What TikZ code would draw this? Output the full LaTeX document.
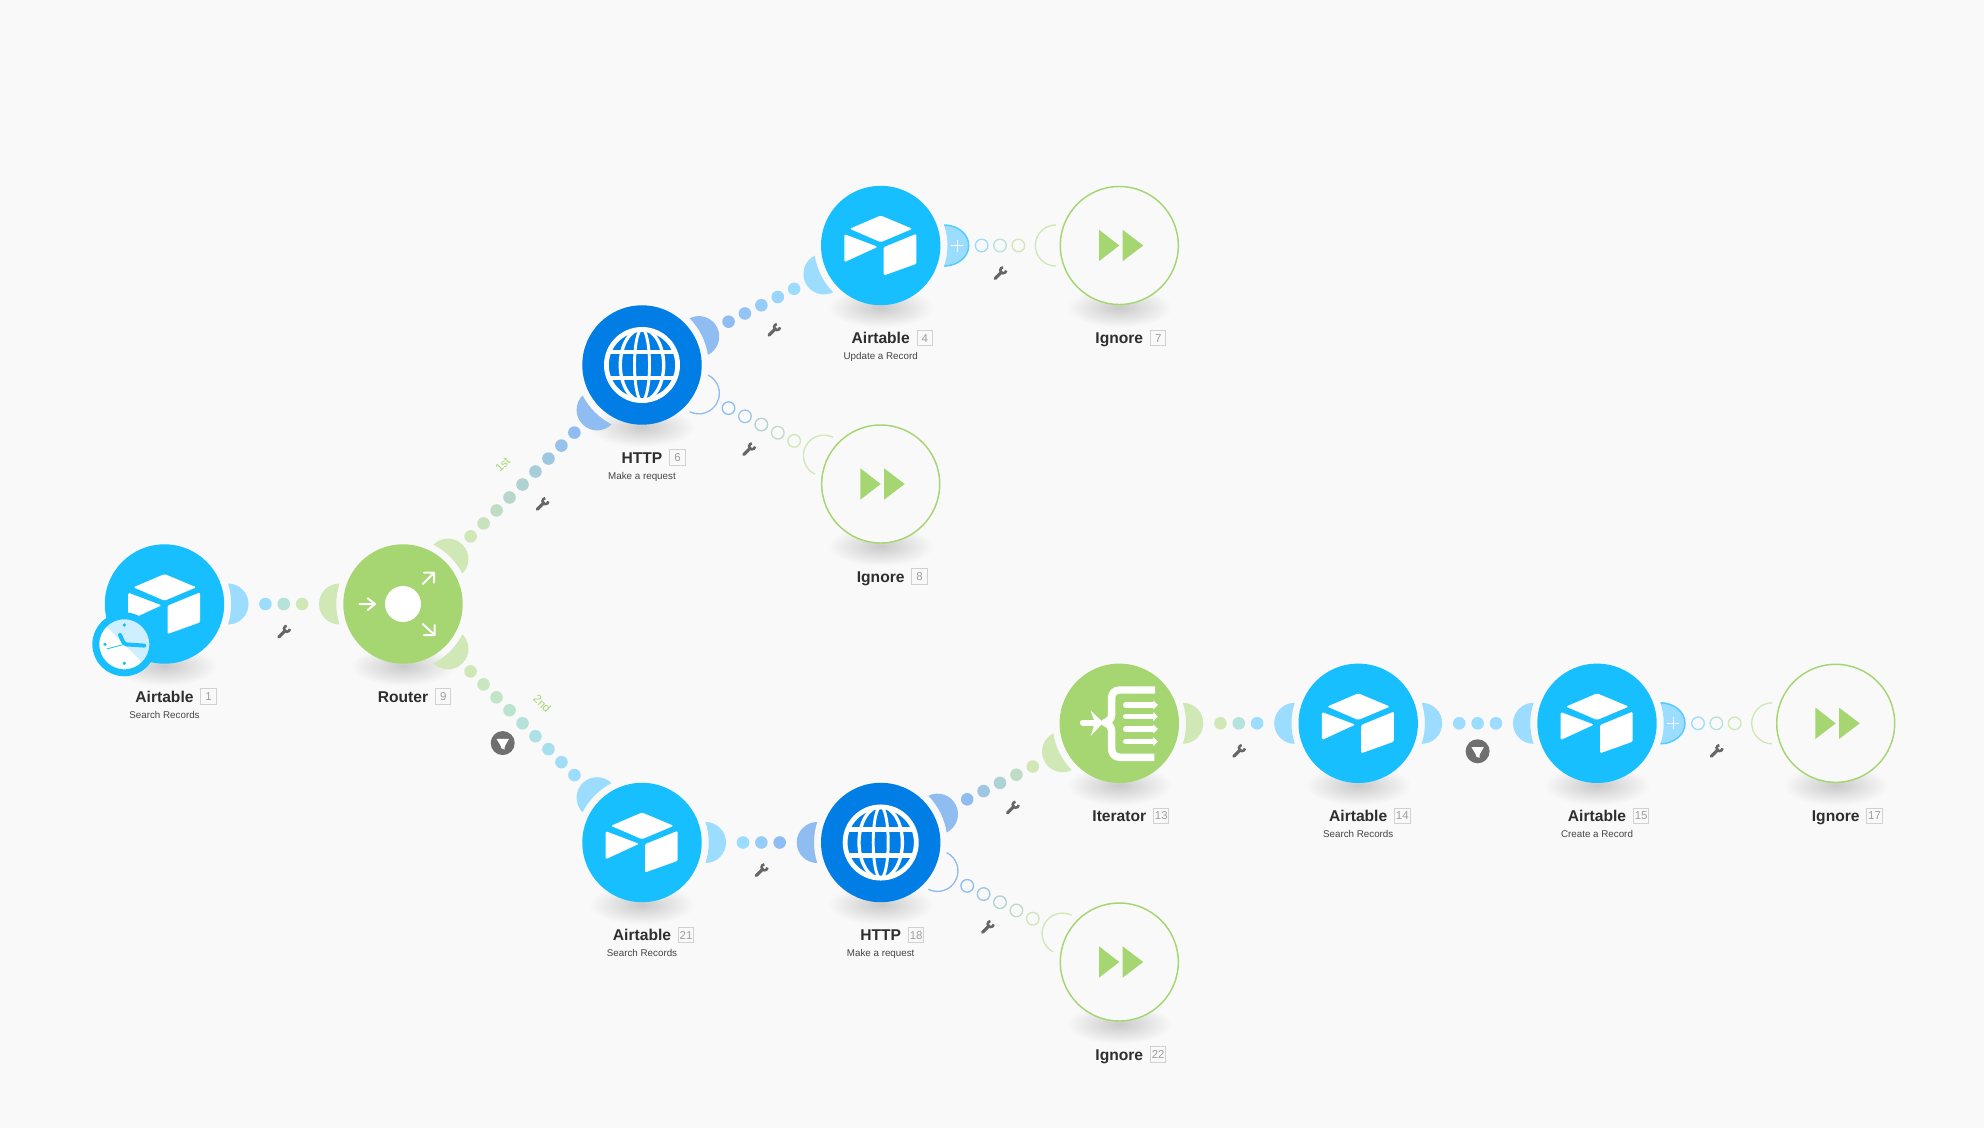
\documentclass[tikz,border=0pt]{standalone}
\usepackage{fontspec}
\setmainfont{Liberation Sans}
\usetikzlibrary{calc}
\definecolor{bgc}{HTML}{F9F9F9}
\definecolor{atc}{HTML}{18BFFF}
\definecolor{grc}{HTML}{A6D672}
\definecolor{htc}{HTML}{007EE6}
\definecolor{atl}{HTML}{9BDCFF}
\definecolor{grl}{HTML}{CFE8B6}
\definecolor{htl}{HTML}{8FBCF1}
\definecolor{clkl}{HTML}{CDEFFF}
\definecolor{txt}{HTML}{2E2E2E}
\definecolor{sub}{HTML}{444444}
\definecolor{ico}{HTML}{666666}
\definecolor{flt}{HTML}{6F6F6F}
\tikzset{
  mod/.style={circle,minimum size=89.55pt,inner sep=0pt,outer sep=0pt},
  atnode/.style={mod,fill=atc},
  httpnode/.style={mod,fill=htc},
  greennode/.style={mod,fill=grc},
  ignorenode/.style={mod,fill=bgc,draw=grc,line width=1.1pt,minimum size=88.5pt},
  title/.style={inner sep=0pt,anchor=base,text=txt,font=\fontsize{11.7}{14}\selectfont\bfseries},
  subt/.style={inner sep=0pt,anchor=base,text=sub,font=\fontsize{7.35}{8}\selectfont},
  numbox/.style={draw=black!18,line width=.75pt,fill=bgc,inner sep=0pt,minimum width=11.6pt,minimum height=11.6pt,text=black!38,font=\fontsize{8.6}{9}\selectfont},
  edgelbl/.style={inner sep=0pt,text=grc,font=\fontsize{8.6}{9}\selectfont},
  ic/.style={fill=white,rounded corners=1pt},
}
\newcommand\module[7]{% id x y style title num sub
  \shade[inner color=black!21,outer color=bgc] (#2,#3+62) ellipse (53 and 20);
  \node[#4] (#1) at (#2,#3) {};
  \node[title] (t#1) at ($(#1.center)+(0,98.3)$) {#5};
  \node[numbox] (b#1) at ($(t#1.base east)+(14.8,-5.6)$) {#6};
  \node[subt] (s#1) at ($(#1.center)+(0,114.3)$) {#7};
}
\newcommand\iconAT[1]{\begin{scope}[shift={(#1.center)}]
  \fill[ic] (0,-30)--(31.7,-16.7)--(0,-3.3)--(-31,-16.7)--cycle;
  \fill[ic] (-36.3,-11.3)--(-3,1.3)--(-36.3,16.7)--cycle;
  \fill[ic] (35.7,-11.7)--(35.7,18.3)--(3,30)--(3,1.7)--cycle;
\end{scope}}
\newcommand\iconHT[1]{\begin{scope}[shift={(#1.center)},white]
  \draw[line width=3.6pt] (0,0) circle (35.6);
  \draw[line width=2.5pt] (0,0) ellipse (21.7 and 36);
  \draw[line width=2.2pt] (0,0) ellipse (7.5 and 36);
  \draw[line width=3.6pt] (-33,-13)--(33,-13) (-33,13)--(33,13);
\end{scope}}
\newcommand\iconIG[1]{\begin{scope}[shift={(#1.center)}]
  \fill[grc] (-20.3,-15.7)--(0,0)--(-20.3,15.7)--cycle;
  \fill[grc] (3.3,-15.7)--(24,0)--(3.3,15.7)--cycle;
\end{scope}}
\newcommand\iconRT[1]{\begin{scope}[shift={(#1.center)}]
  \fill[white] (0,0) circle (18);
  \draw[white,line width=1.5pt,line cap=round,line join=round]
    (-43.7,0)--(-28,0) (-35.3,-5.7)--(-28,0)--(-35.3,6)
    (19.7,-20)--(31,-31.3) (21,-31.3)--(31,-31.3)--(31,-21.3)
    (19.7,20)--(31.7,31) (21,31)--(31.7,31)--(31.7,21);
\end{scope}}
\newcommand\iconIT[1]{\begin{scope}[shift={(#1.center)}]
  \draw[white,line width=5.6pt,line join=round]
    (35.7,-33.3)--(0.7,-33.3) .. controls (-5,-33.3) and (-7.7,-30) .. (-7.7,-25)
    --(-7.7,-9) .. controls (-7.7,-5) and (-10,-2) .. (-14.3,-0.7)
    .. controls (-10,0.7) and (-7.7,4) .. (-7.7,8)
    --(-7.7,25) .. controls (-7.7,30) and (-5,34) .. (0.7,34)--(35,34);
  \foreach \yy in {-18.3,-6.7,5.7,18.3}{
    \draw[white,line width=4.2pt,line cap=round] (6.5,\yy)--(34,\yy);
    \fill[white] (34,\yy-4.6)--(38.5,\yy)--(34,\yy+4.6)--cycle;
  }
  \draw[white,line width=4.4pt,line cap=round] (-36.5,-0.7)--(-26,-0.7);
  \fill[white] (-28.7,-12.7)--(-16,-0.7)--(-28.7,12.7)--(-24.3,-0.7)--cycle;
\end{scope}}
\newcommand\wrenchat[1]{\begin{scope}[shift={(#1)},ico]
  \draw[line width=2.4pt,line cap=round] (-5,5)--(1.5,-1.5);
  \draw[line width=1.9pt] (3.2,-3.2)+(5:3) arc (5:265:3);
\end{scope}}
\newcommand\filterat[1]{\begin{scope}[shift={(#1)}]
  \fill[flt] (0,0) circle (12);
  \fill[white,rounded corners=.4pt] (-6.3,-4.3)--(6.3,-4.3)--(2,3.3)--(2,6.7)--(-1.7,5)--(-1.7,3.3)--cycle;
\end{scope}}
\newcommand\portfill[3]{\fill[#3,shift={(#1.center)},rotate=#2] (63.5,-20.5) arc (-90:90:20.5) arc (17.9:-17.9:66.73) -- cycle;}
\newcommand\portline[3]{\draw[#3,line width=1pt,shift={(#1.center)},rotate=#2] (63.5,-20.5) arc (-90:90:20.5);}
\newcommand\getang[2]{\pgfmathanglebetweenpoints{\pgfpointanchor{#1}{center}}{\pgfpointanchor{#2}{center}}\let\ang\pgfmathresult}
% filled connector: src srccol dst dstcol halfcount tool
\newcommand\flink[6]{\getang{#1}{#3}%
  \portfill{#1}{\ang}{#2}\portfill{#3}{\ang+180}{#4}%
  \foreach \k in {-#5,...,#5}{\pgfmathsetmacro\pct{100*(\k+#5)/(2*#5)}
    \fill[#4!\pct!#2] ($($(#1)!.5!(#3)$)+(\ang:\k*13.76pt)$) circle (6.3);}
  #6{$($(#1)!.5!(#3)$)+(\ang-90:21pt)$}}
% hollow connector
\newcommand\hlink[6]{\getang{#1}{#3}%
  \portline{#3}{\ang+180}{#4}%
  \foreach \k in {-#5,...,#5}{\pgfmathsetmacro\pct{100*(\k+#5)/(2*#5)}
    \draw[#4!\pct!#2,line width=1pt] ($($(#1)!.5!(#3)$)+(\ang:\k*13.76pt)$) circle (6.3);}
  #6{$($(#1)!.5!(#3)$)+(\ang-90:21pt)$}}
\newcommand\plusport[2]{%
  \begin{scope}[shift={(#1.center)}]
  \fill[atl] (63.5,-20.5) arc (-90:90:24.5 and 20.5) arc (17.9:-17.9:66.73) -- cycle;
  \draw[atc!55!atl,line width=1.1pt] (63.5,-20.5) arc (-90:90:24.5 and 20.5);
  \draw[white,line width=.7pt] (76.3,-6)--(76.3,6) (70.3,0)--(82.3,0);
  \end{scope}}
\begin{document}
\begin{tikzpicture}[x=0.75pt,y=-0.75pt]
\fill[bgc] (0,0) rectangle (1984,1128);
\useasboundingbox (0,0) rectangle (1984,1128);
\module{n1}{164.5}{604}{atnode}{Airtable}{1}{Search Records}
\module{n9}{403}{604}{greennode}{Router}{9}{}
\module{n6}{642}{365}{httpnode}{HTTP}{6}{Make a request}
\module{n4}{880.7}{245.5}{atnode}{Airtable}{4}{Update a Record}
\module{n7}{1119.3}{245.5}{ignorenode}{Ignore}{7}{}
\module{n8}{880.7}{484}{ignorenode}{Ignore}{8}{}
\module{n21}{642}{842.5}{atnode}{Airtable}{21}{Search Records}
\module{n18}{880.7}{842.5}{httpnode}{HTTP}{18}{Make a request}
\module{n13}{1119.3}{723.3}{greennode}{Iterator}{13}{}
\module{n14}{1358.2}{723.3}{atnode}{Airtable}{14}{Search Records}
\module{n15}{1597}{723.3}{atnode}{Airtable}{15}{Create a Record}
\module{n17}{1835.7}{723.3}{ignorenode}{Ignore}{17}{}
\module{n22}{1119.3}{962}{ignorenode}{Ignore}{22}{}
\iconAT{n1}\iconAT{n4}\iconAT{n21}\iconAT{n14}\iconAT{n15}
\iconHT{n6}\iconHT{n18}
\iconIG{n7}\iconIG{n8}\iconIG{n17}\iconIG{n22}
\iconRT{n9}\iconIT{n13}
% connectors
\flink{n1}{atl}{n9}{grl}{1}{\wrenchat}
\flink{n9}{grl}{n6}{htl}{4}{\wrenchat}
\flink{n6}{htl}{n4}{atl}{2}{\wrenchat}
\flink{n9}{grl}{n21}{atl}{4}{\filterat}
\flink{n21}{atl}{n18}{htl}{1}{\wrenchat}
\flink{n18}{htl}{n13}{grl}{2}{\wrenchat}
\flink{n13}{grl}{n14}{atl}{1}{\wrenchat}
\flink{n14}{atl}{n15}{atl}{1}{\filterat}
\plusport{n4}{n7}
\hlink{n4}{atl}{n7}{grl}{1}{\wrenchat}
\plusport{n15}{n17}
\hlink{n15}{atl}{n17}{grl}{1}{\wrenchat}
\getang{n6}{n8}\portline{n6}{\ang}{htl}
\hlink{n6}{htl}{n8}{grl}{2}{\wrenchat}
\getang{n18}{n22}\portline{n18}{\ang}{htl}
\hlink{n18}{htl}{n22}{grl}{2}{\wrenchat}
\node[edgelbl,rotate=45] (lab1) at ($($(n9)!.5!(n6)$)+(135:21pt)$) {1st};
\node[edgelbl,rotate=-45] (lab2) at ($($(n9)!.5!(n21)$)+(45:21pt)$) {2nd};
% clock badge
\begin{scope}[shift={($(n1.center)+(-40.2,40.3)$)}]
  \fill[white] (0,0) circle (28.5);
  \fill[clkl] (-135:28.5) arc (-135:45:28.5) -- cycle;
  \draw[atc,line width=5.2pt] (0,0) circle (28.5);
  \fill[atc] (0,-19.3) circle (1.8) (-19.3,0) circle (1.8) (0,19) circle (1.8);
  \draw[atc,line width=3pt,line cap=round,line join=round,rounded corners=2pt] (-4.3,-9.3)--(0,0)--(20,1.3);
  \draw[atc,line width=.6pt] (0,0)--(-17.7,4.7);
\end{scope}
\end{tikzpicture}
\end{document}
